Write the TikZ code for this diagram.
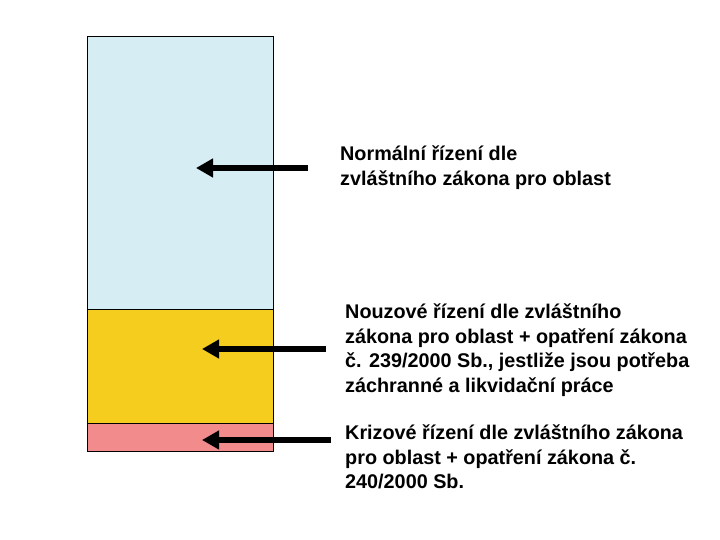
\documentclass[tikz,border=0pt]{standalone}
\usepackage{fontspec}
\setmainfont{Liberation Sans}
\usetikzlibrary{arrows.meta}
\tikzset{>={Triangle[length=17pt,width=18pt]}}
\definecolor{normalblue}{RGB}{214,238,243}
\definecolor{nouzyellow}{RGB}{245,205,30}
\definecolor{krizpink}{RGB}{242,140,140}
\tikzset{
    band/.style={draw=black, line width=1pt},
    popis/.style={anchor=north west, inner sep=0pt, align=left,
        font=\bfseries\fontsize{19.8}{24.5}\selectfont},
    sipka/.style={->, line width=6.5pt}
}

\begin{document}
\begin{tikzpicture}[x=1pt, y=-1pt]
    \useasboundingbox(0, 0)rectangle(720, 540);
    \fill[white](0, 0)rectangle(720, 540);
    % pasma rizeni
    \draw[band, fill=normalblue](87, 37)rectangle(273, 309);
    \draw[band, fill=nouzyellow](87, 309)rectangle(273, 423);
    \draw[band, fill=krizpink](87, 423)rectangle(273, 451);
    % popisky
    \node[popis](normal)at(340, 146){Normální řízení dle\\zvláštního zákona pro oblast};
    \node[popis](nouz)at(345, 304){Nouzové řízení dle zvláštního\\zákona pro oblast + opatření zákona\\č. 239/2000 Sb., jestliže jsou potřeba\\záchranné a likvidační práce};
    \node[popis](kriz)at(345, 425){Krizové řízení dle zvláštního zákona\\pro oblast + opatření zákona č.\\240/2000 Sb.};
    % sipky
    \coordinate(normalZ)at(308, 168);
    \coordinate(normalK)at(196, 168);
    \coordinate(nouzZ)at(326, 349);
    \coordinate(nouzK)at(202, 349);
    \coordinate(krizZ)at(331, 440);
    \coordinate(krizK)at(202, 440);
    \draw[sipka](normalZ)--(normalK);
    \draw[sipka](nouzZ)--(nouzK);
    \draw[sipka](krizZ)--(krizK);
\end{tikzpicture}
\end{document}
